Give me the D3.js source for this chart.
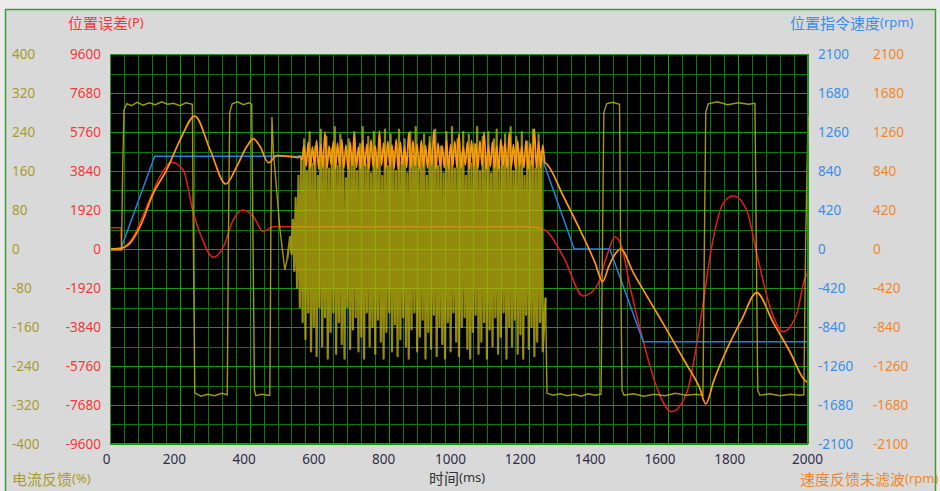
<!DOCTYPE html>
<html><head><meta charset="utf-8">
<script src="https://cdn.jsdelivr.net/npm/d3@7"></script>
<style>
html,body{margin:0;padding:0;background:#ececec;}
svg{display:block;}
</style></head><body>
<svg id="c" width="940" height="491"></svg>
<script>
// ---------------- data ----------------
const timeTicks    = [0,200,400,600,800,1000,1200,1400,1600,1800,2000];
const currentTicks = [400,320,240,160,80,0,-80,-160,-240,-320,-400];
const errorTicks   = [9600,7680,5760,3840,1920,0,-1920,-3840,-5760,-7680,-9600];
const speedTicks   = [2100,1680,1260,840,420,0,-420,-840,-1260,-1680,-2100];

// position command speed (rpm)
const cmdTime  = [0, 31, 128, 1236, 1330, 1432, 1528, 2000];
const cmdSpeed = [0, 0, 1000, 1000, 0, 0, -1000, -1000];

// position error (P)
const errTime  = [0, 31, 33, 45, 67, 105, 143, 177, 210, 239, 258, 296, 325, 353, 380, 411, 439, 468, 506, 600, 800, 1000, 1200, 1246,
                  1299, 1356, 1394, 1423, 1447, 1466, 1490, 1527, 1566, 1609, 1652, 1698, 1724, 1757, 1786, 1824, 1853, 1891, 1929, 1968, 1991, 2000];
const errValue = [1050, 1050, 40, 150, 606, 2083, 3560, 4268, 3890, 1757, 772, -409, 113, 1428, 1920, 1592, 852, 1098, 1098, 1100, 1090, 1100, 1095, 935,
                  -379, -2314, -1855, -379, 606, 113, -1855, -4480, -6779, -8009, -7104, -2840, 113, 2250, 2625, 1920, -212, -2840, -4070, -3166, -1442, -1150];

// speed feedback unfiltered (rpm): smooth parts
const fbPreTime   = [0, 33, 57, 86, 124, 162, 201, 243, 287, 332, 363, 392, 411, 430, 454, 478, 516, 540];
const fbPreSpeed  = [0, 10, 60, 240, 600, 850, 1175, 1432, 1066, 700, 887, 1103, 1185, 1103, 929, 1005, 995, 985];
const fbNoiseStart = 544, fbNoiseStep = 6;
const fbNoise = [1000,960,1120,890,1150,870,1100,900,1170,860,
                 1130,880,1260,870,1110,905,1160,865,1140,890,
                 1180,875,1120,860,1150,900,1240,880,1100,870,
                 1165,895,1130,860,1175,885,1110,870,1270,900,
                 1140,865,1160,890,1120,875,1180,860,1150,905,
                 1105,880,1250,870,1165,895,1130,860,1170,885,
                 1115,870,1155,900,1280,865,1140,890,1110,875,
                 1175,860,1125,895,1160,880,1240,870,1100,905,
                 1150,865,1170,885,1130,870,1165,900,1260,860,
                 1120,890,1155,875,1110,860,1180,895,1140,870,
                 1250,885,1125,865,1165,900,1105,875,1170,860,
                 1135,890,1290,870,1150,880,1120,930];
const fbPostTime  = [1250, 1300, 1350, 1390, 1411, 1430, 1450, 1463, 1500, 1550, 1600, 1650, 1690, 1707, 1730, 1770, 1810, 1853, 1900, 1950, 1988, 2000];
const fbPostSpeed = [920, 560, 180, -150, -352, -180, -40, 0, -260, -580, -900, -1230, -1500, -1669, -1420, -1060, -760, -470, -790, -1120, -1403, -1440];

// current feedback (%)
const curPreTime  = [0, 33, 36, 40, 48, 62, 78, 95, 112, 130, 148, 165, 182, 200, 218, 236, 239, 243, 260, 280, 300, 320, 336, 339, 343, 350, 366, 382, 398, 406, 410, 414, 418, 435, 452, 458, 462, 464, 468, 480, 487, 501, 508];
const curPreValue = [-2, -2, 150, 285, 298, 294, 301, 295, 300, 296, 302, 297, 299, 294, 300, 297, 0, -295, -302, -298, -301, -296, -299, 0, 280, 298, 302, 296, 300, 297, 0, -290, -301, -298, -300, -300, 150, 271, 200, 100, 40, -43, -20];
const curNoiseStart = 516, curNoiseStep = 4;
const curNoise = [25,-10,60,-45,105,-80,150,-120,185,-150,
                  225,-185,160,-130,240,-210,175,-160,210,-220,
                  150,-120,245,-200,190,-140,230,-225,165,-170,
                  205,-130,250,-215,170,-150,235,-195,185,-225,
                  145,-120,225,-205,195,-165,240,-140,160,-210,
                  215,-180,250,-225,175,-130,230,-200,155,-160,
                  240,-215,185,-145,220,-190,150,-225,245,-170,
                  170,-130,235,-210,200,-155,160,-220,245,-185,
                  180,-140,225,-200,155,-225,240,-165,190,-130,
                  250,-210,165,-180,215,-145,235,-225,150,-170,
                  230,-205,190,-135,245,-220,170,-160,210,-195,
                  155,-225,240,-150,180,-210,250,-130,165,-190,
                  225,-220,195,-160,240,-140,150,-205,235,-225,
                  175,-170,215,-135,250,-215,160,-190,230,-150,
                  190,-225,240,-165,155,-200,225,-140,245,-215,
                  170,-180,210,-130,235,-225,185,-160,250,-200,
                  160,-145,230,-215,195,-175,240,-225,150,-135,
                  220,-205,180,-160,245,-220,165,-190,235,-150,
                  200,-210];
const curPostTime  = [1248, 1252, 1270, 1290, 1310, 1330, 1350, 1370, 1390, 1407, 1411, 1415, 1423, 1440, 1460, 1463, 1467, 1473, 1500, 1530, 1560, 1590, 1620, 1650, 1680, 1699, 1703, 1707, 1714, 1740, 1770, 1800, 1830, 1848, 1852, 1856, 1862, 1890, 1920, 1950, 1975, 1988, 1993, 2000];
const curPostValue = [-100, -296, -300, -297, -301, -298, -302, -297, -300, -298, 0, 280, 298, 301, 297, 0, -290, -300, -297, -302, -298, -301, -296, -300, -298, -300, 0, 280, 298, 302, 296, 300, 297, 299, 0, -290, -300, -297, -301, -298, -300, -299, 0, 272];

// ---------------- layout ----------------
const W = 940, H = 491;
const P = {l:110, r:808, t:54, b:444};
const svg = d3.select('#c');
const numFont = '"Noto Sans", "DejaVu Sans", sans-serif';
const cjkFont = '"Noto Sans CJK SC", "Noto Sans", sans-serif';
const C = {olive:'#a89c2c', red:'#f23838', blue:'#3a8ee6', orange:'#f0882a', axis:'#2e2e48'};

const x    = d3.scaleLinear().domain([0,2000]).range([P.l,P.r]);
const yCur = d3.scaleLinear().domain([-400,400]).range([P.b,P.t]);
const yErr = d3.scaleLinear().domain([-9600,9600]).range([P.b,P.t]);
const ySpd = d3.scaleLinear().domain([-2100,2100]).range([P.b,P.t]);

// panel background and outer frame
svg.append('rect').attr('x',5.5).attr('y',9.5).attr('width',930).attr('height',H)
   .attr('fill','#d9d9d9').attr('stroke','#3c9c3c').attr('stroke-width',1.5);

// plot background
svg.append('rect').attr('x',P.l).attr('y',P.t).attr('width',P.r-P.l).attr('height',P.b-P.t).attr('fill','#000');

// grid
const grid = svg.append('g');
const vMinor = d3.range(0,2001,40), hMinor = d3.range(-400,401,40);
grid.selectAll('.vg').data(vMinor).join('line')
  .attr('x1',d=>Math.round(x(d))+0.5).attr('x2',d=>Math.round(x(d))+0.5)
  .attr('y1',P.t).attr('y2',P.b)
  .attr('stroke',d=>d%200===0?'#109a10':'#0a780a').attr('stroke-width',1);
grid.selectAll('.hg').data(hMinor).join('line')
  .attr('y1',d=>Math.round(yCur(d))+0.5).attr('y2',d=>Math.round(yCur(d))+0.5)
  .attr('x1',P.l).attr('x2',P.r)
  .attr('stroke',d=>d%80===0?'#109a10':'#0a780a').attr('stroke-width',1);

const zip = (ts, vs) => ts.map((t,i)=>[t, vs[i]]);
const noisePts = (start, step, vs) => vs.map((v,i)=>[start+step*i, v]);

const plot = svg.append('g');
// red: position error
plot.append('path').datum(zip(errTime, errValue))
  .attr('fill','none').attr('stroke','#e81c1c').attr('stroke-width',1.5)
  .attr('d', d3.line().x(d=>x(d[0])).y(d=>yErr(d[1])).curve(d3.curveMonotoneX));
// blue: command speed
plot.append('path').datum(zip(cmdTime, cmdSpeed))
  .attr('fill','none').attr('stroke','#1e84e0').attr('stroke-width',1.5)
  .attr('d', d3.line().x(d=>x(d[0])).y(d=>ySpd(d[1])));
// olive: current feedback (steady parts thin, oscillating part drawn denser)
const curLine = d3.line().x(d=>x(d[0])).y(d=>yCur(d[1]));
const curPre = zip(curPreTime,curPreValue), curOsc = noisePts(curNoiseStart,curNoiseStep,curNoise), curPost = zip(curPostTime,curPostValue);
plot.append('path').datum([curPre[curPre.length-1]].concat(curOsc).concat([curPost[0]]))
  .attr('fill','none').attr('stroke','#bdb212').attr('stroke-opacity',0.78).attr('stroke-width',2.2)
  .attr('stroke-linejoin','round').attr('d', curLine);
plot.append('path').datum(curPre)
  .attr('fill','none').attr('stroke','#bdb212').attr('stroke-opacity',0.85).attr('stroke-width',1.4)
  .attr('d', curLine);
plot.append('path').datum(curPost)
  .attr('fill','none').attr('stroke','#bdb212').attr('stroke-opacity',0.85).attr('stroke-width',1.4)
  .attr('d', curLine);
// orange: speed feedback unfiltered
const fbData = zip(fbPreTime,fbPreSpeed)
  .concat(noisePts(fbNoiseStart,fbNoiseStep,fbNoise))
  .concat(zip(fbPostTime,fbPostSpeed));
plot.append('path').datum(fbData)
  .attr('fill','none').attr('stroke','#ff980a').attr('stroke-width',1.7)
  .attr('stroke-linejoin','round')
  .attr('d', d3.line().x(d=>x(d[0])).y(d=>ySpd(d[1])).curve(d3.curveMonotoneX));

// plot frame
svg.append('rect').attr('x',P.l+0.5).attr('y',P.t+0.5).attr('width',P.r-P.l-1).attr('height',P.b-P.t-1)
  .attr('fill','none').attr('stroke','#2a8f2a').attr('stroke-width',1);

// axes
const plain = d => String(d);
function styleAxis(g, color, anchor){
  g.select('.domain').remove();
  g.selectAll('.tick line').remove();
  g.selectAll('text').attr('fill',color).attr('font-family',numFont).attr('font-size','13.5px');
  if(anchor) g.selectAll('text').attr('text-anchor',anchor);
}
svg.append('g').attr('transform','translate(12,0)')
  .call(d3.axisRight(yCur).tickValues(currentTicks).tickFormat(plain).tickSize(0).tickPadding(0))
  .call(g=>styleAxis(g,C.olive,'start'));
svg.append('g').attr('transform','translate(101,0)')
  .call(d3.axisLeft(yErr).tickValues(errorTicks).tickFormat(plain).tickSize(0).tickPadding(0))
  .call(g=>styleAxis(g,C.red,'end'));
svg.append('g').attr('transform','translate(818,0)')
  .call(d3.axisRight(ySpd).tickValues(speedTicks).tickFormat(plain).tickSize(0).tickPadding(0))
  .call(g=>styleAxis(g,C.blue,'start'));
svg.append('g').attr('transform','translate(873,0)')
  .call(d3.axisRight(ySpd).tickValues(speedTicks).tickFormat(plain).tickSize(0).tickPadding(0))
  .call(g=>styleAxis(g,C.orange,'start'));
const xa = svg.append('g').attr('transform',`translate(0,${P.b})`)
  .call(d3.axisBottom(x).tickValues(timeTicks).tickFormat(plain).tickSize(0).tickPadding(10))
  .call(g=>styleAxis(g,C.axis,'middle'));
xa.selectAll('.tick text').attr('dx',(d,i)=> i===0 ? -4 : (i===timeTicks.length-1 ? -1 : (String(d).length===3 ? -6 : -9)));

// titles (main part + smaller parenthetical unit)
function title(main, unit, xx, yy, color){
  const t = svg.append('text').attr('x',xx).attr('y',yy).attr('fill',color)
    .attr('font-family',cjkFont).attr('dominant-baseline','central');
  t.append('tspan').attr('font-size','15px').text(main);
  t.append('tspan').attr('font-size','13px').attr('font-family',numFont).text(unit);
}
title('位置误差', '(P)', 68, 22, C.red);
title('位置指令速度', '(rpm)', 790, 22, C.blue);
title('电流反馈', '(%)', 12, 478, C.olive);
title('速度反馈未滤波', '(rpm)', 800, 478, C.orange);
title('时间', '(ms)', 429, 477, '#333');
</script>
</body></html>
